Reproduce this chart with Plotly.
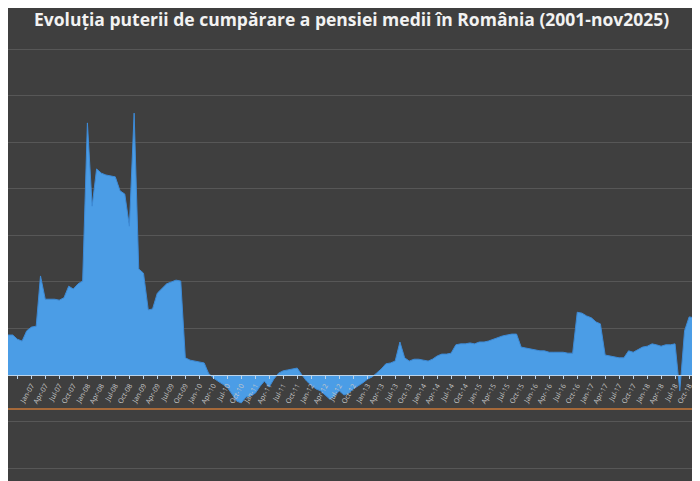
import plotly.graph_objects as go
import pandas as pd

title = "Evoluția puterii de cumpărare a pensiei medii în România (2001-nov2025)"
start_month = "2006-08-01"
values = [0.86,0.86,0.77,0.73,0.95,1.03,1.05,2.13,1.63,1.63,1.63,1.61,1.66,1.91,1.85,1.96,2.02,5.42,3.63,4.43,
4.34,4.30,4.28,4.26,3.96,3.89,3.20,5.63,2.28,2.19,1.40,1.42,1.76,1.87,1.96,2.00,2.04,2.02,0.37,0.32,
0.30,0.28,0.26,0.04,-0.06,-0.13,-0.19,-0.26,-0.41,-0.56,-0.60,-0.47,-0.45,-0.39,-0.24,-0.13,-0.26,-0.09,0.04,0.09,
0.11,0.13,0.15,0.00,-0.13,-0.22,-0.30,-0.34,-0.43,-0.52,-0.45,-0.34,-0.43,-0.39,-0.30,-0.24,-0.17,-0.09,-0.04,0.04,
0.13,0.24,0.26,0.30,0.71,0.37,0.30,0.34,0.34,0.32,0.30,0.34,0.41,0.45,0.45,0.47,0.65,0.67,0.67,0.69,
0.67,0.71,0.71,0.73,0.77,0.80,0.84,0.86,0.88,0.88,0.60,0.58,0.56,0.54,0.52,0.52,0.49,0.49,0.49,0.49,
0.47,0.47,1.35,1.33,1.27,1.23,1.14,1.10,0.43,0.41,0.39,0.37,0.37,0.52,0.49,0.54,0.60,0.62,0.67,0.65,
0.62,0.65,0.65,0.67,-0.34,0.95,1.25,1.23,1.20,1.25,1.31]
reference_level = -0.73

dates = pd.date_range(start_month, periods=len(values), freq="MS")

fig = go.Figure()
fig.add_trace(go.Scatter(x=dates, y=values, mode="lines", fill="tozeroy",
                         line=dict(color="#3d8ad6", width=1), fillcolor="#4b9de6",
                         hoverinfo="skip"))
fig.add_hline(y=reference_level, line=dict(color="#c8783a", width=1.5))

fig.update_layout(
    width=700, height=481, margin=dict(l=0, r=0, t=0, b=0),
    paper_bgcolor="#3f3f3f", plot_bgcolor="#3f3f3f", showlegend=False,
    annotations=[dict(text="<b>" + title + "</b>", x=0.49, y=0.978, xref="paper", yref="paper",
                      yanchor="middle", showarrow=False,
                      font=dict(family="Open Sans", size=17.5, color="#f2f2f2"))],
)
fig.update_yaxes(range=[-2.45, 7.89], dtick=1, showticklabels=False, gridcolor="#575757",
                 gridwidth=1, zeroline=False)
fig.update_xaxes(range=[dates[0], dates[-1]], anchor="free", position=0.237,
                 showgrid=False, showline=True, linecolor="#bcd4ea", linewidth=1,
                 ticks="outside", ticklen=3, tickcolor="#bcd4ea",
                 dtick="M3", tick0="2006-10-01", tickformat="%b-%y", tickangle=-60,
                 tickfont=dict(family="Open Sans", size=7, color="#c8c8c8"))
fig.write_html("out.html")
